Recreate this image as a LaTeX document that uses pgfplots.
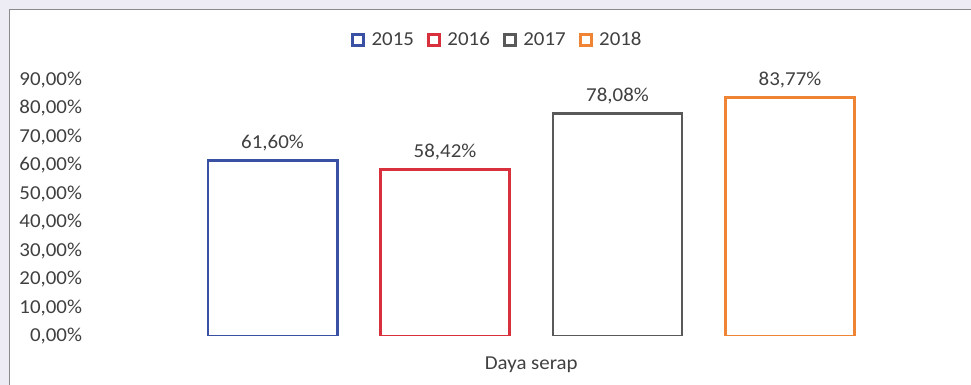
\documentclass[border=0pt]{standalone}
\usepackage{pgfplots}
\pgfplotsset{compat=1.18}
\usepackage{fontspec}
\setmainfont{Carlito}[FakeStretch=1.06]
\definecolor{cBlue}{HTML}{3A50A2}
\definecolor{cRed}{HTML}{D8303C}
\definecolor{cGrey}{HTML}{595959}
\definecolor{cOrange}{HTML}{EE8434}
\definecolor{txt}{HTML}{404040}
\definecolor{frame}{HTML}{8A8A8A}
\definecolor{bgstrip}{HTML}{EDECF4}
\pgfkeys{/pgf/number format/assume math mode=true}
\newcommand\lbl{\fontsize{14.8}{17}\selectfont}
\begin{document}
\begin{tikzpicture}
\useasboundingbox (0,0) rectangle (728.25pt,288.75pt);
% page background and chart frame
\fill[bgstrip] (0,0) rectangle (728.25pt,288.75pt);
\fill[white] (6.75pt,0) rectangle (728.25pt,282pt);
\draw[frame,line width=1.2pt] (7.1pt,0) -- (7.1pt,281.6pt) -- (728.25pt,281.6pt);
\begin{axis}[
  at={(68.55pt,36.75pt)}, anchor=south west,
  scale only axis, width=659.8pt, height=192pt,
  xmin=-1.05, xmax=4.05, ymin=0, ymax=90,
  axis line style={draw=none},
  major tick length=0pt,
  xtick=\empty,
  ytick={0,10,...,90},
  yticklabel={\pgfmathprintnumber[fixed,fixed zerofill,precision=2,use comma]{\tick}\%},
  yticklabel style={font=\lbl, text=txt, anchor=east, xshift=-3.5pt},
  ybar, bar shift=0pt, bar width=0.748,
  every axis plot/.append style={line width=2.2pt, fill=white},
  nodes near coords={\pgfmathprintnumber[fixed,fixed zerofill,precision=2,use comma]{\pgfplotspointmeta}\%},
  every node near coord/.append style={font=\lbl, text=txt, yshift=3pt},
  xlabel={Daya serap},
  xlabel style={font=\lbl, text=txt, at={(axis cs:1.5,0)}, anchor=north, yshift=-12pt},
  legend columns=4,
  legend style={draw=none, fill=none, at={(0.462,1.156)}, anchor=center,
    font=\lbl, text=txt,
    /tikz/every odd column/.append style={column sep=3pt},
    /tikz/every even column/.append style={column sep=8pt}},
  legend image code/.code={\draw[#1, line width=2.1pt, fill=white] (0pt,-4pt) rectangle (8pt,4pt);},
]
\addplot[draw=cBlue] coordinates {(0,61.60)};
\addplot[draw=cRed] coordinates {(1,58.42)};
\addplot[draw=cGrey] coordinates {(2,78.08)};
\addplot[draw=cOrange] coordinates {(3,83.77)};
\legend{2015,2016,2017,2018}
\end{axis}
\end{tikzpicture}
\end{document}
